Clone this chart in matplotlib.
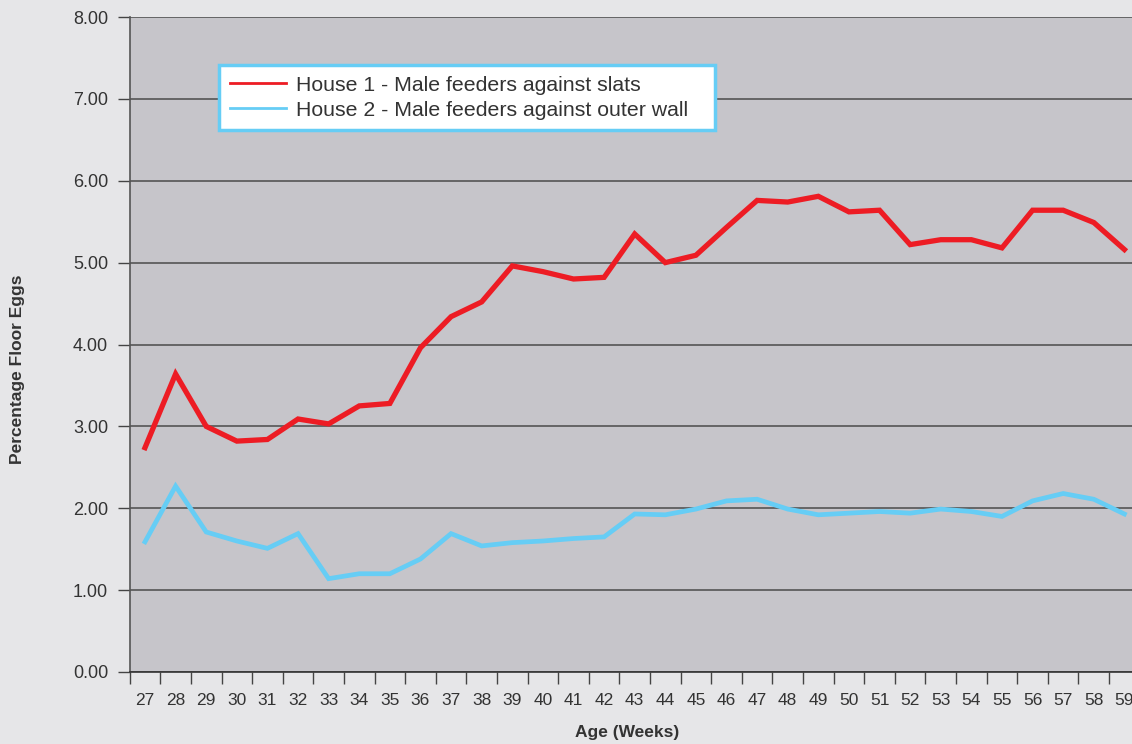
import matplotlib
matplotlib.use('Agg')
import matplotlib.pyplot as plt
import numpy as np

weeks = list(range(27, 60))
house1 = [2.74, 3.64, 3.00, 2.82, 2.84, 3.09, 3.03, 3.25, 3.28, 3.96,
          4.34, 4.52, 4.96, 4.89, 4.80, 4.82, 5.35, 5.00, 5.09, 5.43,
          5.76, 5.74, 5.81, 5.62, 5.64, 5.22, 5.28, 5.28, 5.18, 5.64,
          5.64, 5.49, 5.16]
house2 = [1.59, 2.27, 1.71, 1.60, 1.51, 1.69, 1.14, 1.20, 1.20, 1.38,
          1.69, 1.54, 1.58, 1.60, 1.63, 1.65, 1.93, 1.92, 1.99, 2.09,
          2.11, 1.99, 1.92, 1.94, 1.96, 1.94, 1.99, 1.96, 1.90, 2.09,
          2.18, 2.11, 1.93]
yticks = [0, 1, 2, 3, 4, 5, 6, 7, 8]

plt.rcParams['font.family'] = ['Liberation Sans', 'DejaVu Sans']
text_col = '#333333'

fig = plt.figure(figsize=(11.32, 7.44), dpi=100)
fig.patch.set_facecolor('#e6e6e8')
ax = fig.add_axes([129.7 / 1132, 72 / 744, 1010 / 1132, 655 / 744])
ax.set_facecolor('#c6c5ca')

x = np.arange(len(weeks))
ax.plot(x, house1, color='#ed1c24', lw=3.8, solid_joinstyle='miter',
        label='House 1 - Male feeders against slats', zorder=3)
ax.plot(x, house2, color='#66cdf5', lw=3.4, solid_joinstyle='miter',
        label='House 2 - Male feeders against outer wall', zorder=3)

ax.set_xlim(-0.5, len(weeks) - 0.5)
ax.set_ylim(0, 8)
ax.set_yticks(yticks)
ax.set_yticklabels([f'{v:.2f}' for v in yticks], fontsize=13, color=text_col)
ax.set_xticks(x)
ax.set_xticklabels([str(w) for w in weeks], fontsize=12.5, color=text_col)
ax.set_xticks(np.arange(-0.5, len(weeks)), minor=True)
ax.tick_params(axis='x', which='major', length=0, pad=15)
ax.tick_params(axis='x', which='minor', length=8.6, width=1, color='#444444', direction='out')
ax.tick_params(axis='y', length=8.6, width=1, color='#444444', pad=7)

ax.grid(axis='y', color='#555555', lw=1.2, zorder=1)
ax.set_axisbelow(True)
for side in ['top', 'right']:
    ax.spines[side].set_visible(False)
ax.spines['left'].set_color('#555555')
ax.spines['bottom'].set_color('#333333')
ax.spines['left'].set_linewidth(1.2)
ax.spines['bottom'].set_linewidth(1.2)

fig.text(627 / 1132, 1 - 732 / 744, 'Age (Weeks)', ha='center', va='center',
         fontsize=12.5, fontweight='bold', color=text_col)
fig.text(18 / 1132, 1 - 369 / 744, 'Percentage Floor Eggs', ha='center', va='center',
         rotation=90, fontsize=12.5, fontweight='bold', color=text_col)

# legend box spans x 219-715, y 65-131 in the reference
leg = fig.legend(loc='upper left', mode='expand',
                 bbox_to_anchor=(219 / 1132, 1 - 131 / 744, 496 / 1132, 66 / 744),
                 borderaxespad=0, fancybox=False, framealpha=1, fontsize=15.3,
                 handlelength=2.64, handletextpad=0.47, borderpad=0.5,
                 labelspacing=0.28, edgecolor='#66cdf5', facecolor='white')
leg.get_frame().set_linewidth(2.5)
for line in leg.get_lines():
    line.set_linewidth(2)
for t in leg.get_texts():
    t.set_color(text_col)

fig.savefig('out.png', dpi=100, facecolor=fig.get_facecolor())
